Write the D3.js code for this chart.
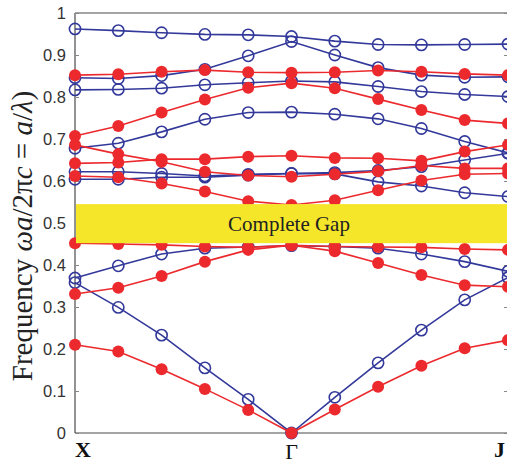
<!DOCTYPE html>
<html><head><meta charset="utf-8">
<script src="https://cdn.jsdelivr.net/npm/d3@7"></script>
<style>html,body{margin:0;padding:0;background:#fff;overflow:hidden}</style>
</head><body>
<svg id="c" width="507" height="463"></svg>
<script>
// k-path sample index 0..10 (X ... Γ ... J)
const kPoints = [0,1,2,3,4,5,6,7,8,9,10];
const kTickLabels = [{k:0,t:"X",bold:true},{k:5,t:"Γ",bold:false},{k:10,t:"J",bold:true}];
const yTicks = [0,0.1,0.2,0.3,0.4,0.5,0.6,0.7,0.8,0.9,1];
const gapRange = [0.452, 0.545];
const gapLabel = "Complete Gap";

// blue (open circle) bands
const blue1 = [0.358,0.299,0.233,0.155,0.080,0.000,0.085,0.167,0.245,0.317,0.370];
const blue2 = [0.369,0.398,0.426,0.440,0.443,0.446,0.444,0.440,0.426,0.408,0.385];
const blue3 = [0.604,0.604,0.609,0.609,0.614,0.618,0.617,0.598,0.588,0.572,0.563];
const blue4 = [0.622,0.622,0.618,0.612,0.616,0.618,0.620,0.625,0.634,0.650,0.666];
const blue5 = [0.678,0.690,0.717,0.747,0.763,0.764,0.759,0.748,0.725,0.694,0.667];
const blue6 = [0.817,0.818,0.821,0.829,0.834,0.838,0.836,0.825,0.813,0.806,0.801];
const blue7 = [0.846,0.844,0.851,0.866,0.898,0.932,0.900,0.870,0.852,0.847,0.848];
const blue8 = [0.962,0.958,0.953,0.949,0.948,0.944,0.933,0.925,0.924,0.925,0.926];
// red (filled) bands
const red1 = [0.210,0.194,0.152,0.105,0.055,0.000,0.056,0.110,0.160,0.202,0.221];
const red2 = [0.331,0.346,0.374,0.408,0.436,0.447,0.433,0.405,0.376,0.352,0.348];
const red3 = [0.452,0.450,0.448,0.444,0.442,0.447,0.444,0.443,0.442,0.438,0.436];
const red4 = [0.612,0.609,0.594,0.575,0.552,0.543,0.554,0.578,0.601,0.616,0.618];
const red5 = [0.686,0.664,0.646,0.622,0.613,0.610,0.616,0.623,0.637,0.630,0.630];
const red6 = [0.642,0.644,0.652,0.652,0.658,0.660,0.655,0.654,0.648,0.670,0.686];
const red7 = [0.707,0.731,0.763,0.794,0.822,0.833,0.821,0.795,0.769,0.745,0.737];
const red8 = [0.852,0.854,0.860,0.864,0.859,0.858,0.859,0.863,0.860,0.855,0.852];

const blueBands = [blue1,blue2,blue3,blue4,blue5,blue6,blue7,blue8];
const redBands = [red1,red2,red3,red4,red5,red6,red7,red8];

const BLUE = "#33399a", RED = "#ec2a2e", YELLOW = "#f6e62a";
const L = 75, R = 508, T = 13, B = 433;
const svg = d3.select("#c");
const x = d3.scaleLinear().domain([0,10]).range([L,R]);
const y = d3.scaleLinear().domain([0,1]).range([B,T]);

// frame
const frame = svg.append("g").attr("stroke","#4a4a4a").attr("stroke-width",1.2).attr("fill","none");
frame.append("line").attr("x1",L).attr("x2",R).attr("y1",T).attr("y2",T);
frame.append("line").attr("x1",L).attr("x2",R).attr("y1",B).attr("y2",B);
frame.append("line").attr("x1",L).attr("x2",L).attr("y1",T).attr("y2",B);
frame.append("line").attr("x1",R).attr("x2",R).attr("y1",T).attr("y2",B);

// axes ticks (inward)
const yAxis = d3.axisRight(y).tickValues(yTicks).tickSize(4).tickFormat("");
svg.append("g").attr("transform",`translate(${L},0)`).call(yAxis)
  .call(g=>g.select(".domain").remove())
  .call(g=>g.selectAll("line").attr("stroke","#888"));
const yAxisR = d3.axisLeft(y).tickValues(yTicks).tickSize(4).tickFormat("");
svg.append("g").attr("transform",`translate(${R},0)`).call(yAxisR)
  .call(g=>g.select(".domain").remove())
  .call(g=>g.selectAll("line").attr("stroke","#888"));
// tick labels
svg.append("g").selectAll("text").data(yTicks).join("text")
  .attr("x",66).attr("y",d=>y(d)).attr("dy","0.36em")
  .attr("text-anchor","end")
  .attr("font-family","'Liberation Sans',Arial,sans-serif").attr("font-size",16.5)
  .attr("fill","#333").text(d=>d3.format("")(d));

// bands
const line = d3.line().x((d,i)=>x(kPoints[i])).y(d=>y(d));
const gB = svg.append("g");
blueBands.forEach(b=>{
  gB.append("path").attr("d",line(b)).attr("fill","none").attr("stroke",BLUE).attr("stroke-width",1.6);
});
blueBands.forEach(b=>{
  gB.append("g").selectAll("circle").data(b).join("circle")
    .attr("cx",(d,i)=>x(kPoints[i])).attr("cy",d=>y(d)).attr("r",5.6)
    .attr("fill","none").attr("stroke",BLUE).attr("stroke-width",1.6);
});
const gR = svg.append("g");
redBands.forEach(b=>{
  gR.append("path").attr("d",line(b)).attr("fill","none").attr("stroke",RED).attr("stroke-width",1.6);
});
redBands.forEach(b=>{
  gR.append("g").selectAll("circle").data(b).join("circle")
    .attr("cx",(d,i)=>x(kPoints[i])).attr("cy",d=>y(d)).attr("r",6)
    .attr("fill",RED);
});

// gap
svg.append("rect").attr("x",L+1).attr("width",507-L-1)
  .attr("y",y(gapRange[1])).attr("height",y(gapRange[0])-y(gapRange[1]))
  .attr("fill",YELLOW);
svg.append("text").attr("x",289).attr("y",(y(gapRange[0])+y(gapRange[1]))/2).attr("dy","0.35em")
  .attr("text-anchor","middle").attr("font-family","'Liberation Serif','Times New Roman',serif")
  .attr("font-size",21).attr("fill","#222").text(gapLabel);

// k labels
svg.append("g").selectAll("text").data(kTickLabels).join("text")
  .attr("x",d=>d.k===0?L:(d.k===10?494:x(d.k)))
  .attr("y",d=>d.bold?457:459)
  .attr("text-anchor",d=>d.k===5?"middle":"start")
  .attr("font-family","'Liberation Serif','Times New Roman',serif")
  .attr("font-weight",d=>d.bold?"bold":"normal")
  .attr("font-size",22).attr("fill","#111").text(d=>d.t);

// y label
const yl = svg.append("text").attr("transform","translate(32,236) rotate(-90)")
  .attr("text-anchor","middle").attr("font-family","'Liberation Serif','Times New Roman',serif")
  .attr("font-size",29).attr("fill","#222");
yl.append("tspan").text("Frequency ");
yl.append("tspan").attr("font-style","italic").text("ωa");
yl.append("tspan").text("/2π");
yl.append("tspan").attr("font-style","italic").text("c");
yl.append("tspan").text(" = ");
yl.append("tspan").attr("font-style","italic").text("a");
yl.append("tspan").text("/");
yl.append("tspan").attr("font-style","italic").text("λ");
yl.append("tspan").text(")");
</script>
</body></html>
